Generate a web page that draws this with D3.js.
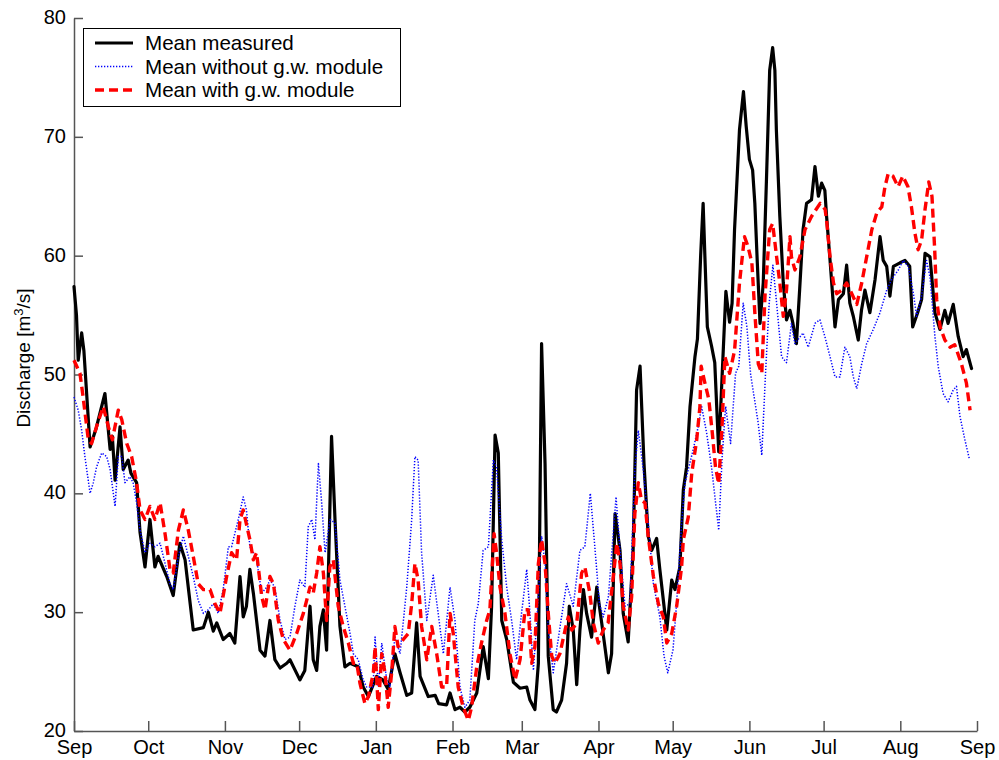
<!DOCTYPE html>
<html>
<head>
<meta charset="utf-8">
<script src="https://cdn.jsdelivr.net/npm/d3@7"></script>
<style>
  html, body { margin: 0; padding: 0; background: #fff; }
  svg { display: block; font-family: "Liberation Sans", Arial, sans-serif; }
</style>
</head>
<body>
<svg id="chart" width="999" height="760"></svg>
<script>
// ---- data: [day offset from 1 Sep, discharge m3/s] ----
const measured = [[0,57.4],[1,55],[1.7,51.2],[3.1,53.5],[4,52],[6.5,43.9],[9,45.5],[12.5,48.4],[14.6,43.7],[15.5,44.8],[16.6,41.1],[18.6,45.6],[19.9,42.0],[21.9,42.8],[23,41.7],[25.3,40.9],[26.7,36.7],[28.7,33.8],[30.7,37.8],[32.7,33.8],[34,34.7],[37.5,33.0],[40.1,31.4],[42.8,35.8],[44.9,34.4],[48.2,28.5],[52.3,28.7],[54.3,30.0],[56.3,28.4],[57.7,29.1],[60.3,27.7],[63,28.2],[65,27.4],[67.1,33.0],[68.4,29.6],[69.7,30.5],[71.1,33.6],[72.5,31.6],[75.2,26.8],[77.2,26.3],[79.2,29.3],[81.2,26.0],[83.3,25.3],[86,25.7],[87.3,26.0],[91.3,24.3],[93.3,25.1],[95.4,30.5],[96.7,26.0],[98.1,25.1],[99.4,28.8],[100.8,30.2],[102.1,26.8],[104.1,44.8],[105.5,37.8],[107.5,28.8],[109.5,25.4],[111.6,25.7],[114.9,25.4],[116.9,23.7],[119,22.9],[122.3,24.6],[124.9,24.3],[127,23.5],[129.7,26.5],[131.8,24.9],[134.5,23.0],[136.5,23.2],[138.5,29.1],[139.9,24.6],[143.2,22.9],[146,23.0],[147.4,22.3],[150.6,22.2],[152,23.2],[154,21.8],[156,22.0],[158,21.6],[160,22.0],[162.8,23.2],[165.4,27.1],[167.5,24.4],[168.8,30.5],[170.2,44.9],[171.5,43.4],[172.9,29.3],[174.9,27.7],[177.6,24.1],[180.3,23.6],[183,23.7],[184.3,22.6],[186.3,21.8],[187.7,25.7],[189,52.6],[190.4,42.5],[191.7,26.3],[193.7,21.8],[195,21.6],[197.1,22.6],[199.1,25.7],[200.2,30.5],[201.8,28.5],[203.2,23.9],[204.5,28.5],[205.9,31.9],[207.2,29.9],[209.2,27.9],[211.3,32.1],[213.3,29.1],[216,24.9],[217.3,26.5],[218.7,38.3],[220.7,35.2],[222,29.9],[224,27.5],[226,35.2],[227.4,48.7],[228.8,50.7],[230.4,42.5],[232.1,36.4],[233.5,35.2],[235.5,36.2],[236.8,33.6],[238.5,30.5],[239.6,28.5],[241.6,32.7],[242.9,31.9],[244.9,33.8],[246.3,40.3],[247.6,42.2],[249,47.3],[251,51.5],[252,53],[253.3,60],[254.3,64.4],[255,60],[256,54],[257.7,52.4],[259,51],[260.6,43.5],[262,50],[263.5,57],[265,54.4],[266,56],[267,62.2],[269,70.6],[270.6,73.8],[271.7,70.9],[273,68.1],[274.3,67.2],[275.2,64.4],[276.2,59.4],[277.3,54.3],[278.6,57.7],[279.9,66.4],[281.2,75.6],[282.4,77.5],[283.3,75.6],[283.9,70.6],[285.3,63.3],[286.7,57.7],[288,54.6],[289.4,55.4],[290.6,54.3],[292,52.6],[293.3,57.1],[294.7,62.2],[296.1,64.4],[298.1,64.7],[299.5,67.5],[300.9,65.0],[302.2,66.1],[303.5,65.5],[304.2,63.3],[305.6,59.6],[307.6,54.0],[309,56.3],[311,56.8],[312.3,59.2],[313.6,56.0],[315,54.9],[317,52.9],[318.3,55.4],[319.7,57.1],[321.7,55.2],[323.8,58.0],[325.8,61.6],[327.1,59.6],[328.5,59.1],[329.8,56.6],[331.2,59.1],[333.9,59.4],[335.9,59.6],[337.8,59.1],[339,54.0],[341,55.2],[342.6,56.3],[344,60.2],[346,59.9],[348,55.2],[350,53.8],[352,55.4],[353.3,54.3],[355.4,55.9],[357.4,53.2],[359.4,51.5],[360.7,52.1],[362.8,50.5]];

const withoutGW = [[0,48.1],[1.7,47.0],[3.1,45.3],[4.4,43.1],[6.5,40.0],[7.8,40.9],[9.1,42.2],[11.2,43.4],[13.2,43.1],[14.6,42.0],[16.6,38.9],[17.9,43.1],[19.3,43.1],[20.6,40.9],[22.6,41.4],[23.9,40.9],[25.3,39.2],[26.7,36.9],[28.7,35.0],[30.7,35.8],[32.7,35.5],[34.8,35.8],[36.8,34.1],[38.8,32.4],[40.1,31.9],[42.2,34.7],[44.2,36.4],[46.2,34.7],[48.2,33.0],[50.2,31.0],[52.3,29.9],[54.3,30.2],[56.3,30.7],[58.3,29.9],[60.3,31.9],[62.4,35.5],[63.7,35.5],[66.4,37.8],[68.4,39.7],[69.7,38.6],[71.1,35.5],[72.5,35.0],[73.8,34.4],[75.9,31.6],[77.9,32.1],[79.2,32.7],[81.2,32.1],[83.3,29.3],[85.3,27.7],[87.3,27.9],[89.3,30.5],[91.3,32.7],[93.3,32.1],[94.7,37.2],[96.1,37.8],[97.4,36.1],[98.8,42.5],[100.1,39.2],[101.5,35.0],[103.5,37.8],[105.5,37.5],[107.5,32.7],[109.5,30.5],[111.6,28.2],[112.9,26.5],[114.9,26.0],[116.9,24.3],[118.3,23.7],[120.9,23.7],[121.7,27.9],[123,23.7],[124.4,27.4],[126.4,24.3],[127.7,23.7],[129.7,27.9],[131.8,26.5],[134.5,32.1],[136.5,37.8],[137.8,43.1],[139.1,42.8],[140.5,35.0],[142.6,29.3],[145.2,33.1],[147.2,29.9],[149.3,26.5],[152,32.1],[154,29.3],[156,23.7],[158,22.0],[160,22.6],[162,29.3],[163.4,30.7],[165.4,35.2],[167.5,35.5],[169.5,42.8],[170.8,42.2],[172.9,36.1],[174.9,32.1],[176.9,29.3],[178.9,26.0],[180.9,29.9],[183,33.6],[184.3,29.9],[185.7,25.1],[187.7,31.3],[189,36.4],[190.4,34.1],[191.7,28.5],[193.7,24.9],[195.7,27.7],[199.1,32.4],[201.8,30.5],[204.5,35.2],[206.5,35.5],[208.7,40.0],[210.4,35.8],[212.4,30.7],[213.9,29.6],[216,31.3],[219.1,39.7],[220.7,35.2],[222.7,30.5],[224.7,30.7],[226.7,42.0],[228.1,45.3],[230.1,42.0],[232.1,37.5],[234.2,32.4],[236.8,29.6],[238.5,26.3],[240,24.9],[242.1,26.8],[243.5,30.5],[245.6,37.5],[247,40.9],[248.9,42.5],[250.3,43.7],[252.3,45.6],[253.7,47.3],[255.7,45.1],[257.7,42.2],[260.6,36.9],[262,43.1],[263.4,47.3],[265.4,44.2],[267.4,50.1],[268.7,50.7],[270.5,56.0],[272,54],[273.5,50],[276.5,46],[278,43.2],[279.5,50],[281,56],[282.5,59.2],[284,56],[286,51.5],[288,51],[290,54.3],[291.4,52.6],[294.7,53.5],[296.8,52.3],[299.5,54.3],[301.5,54.6],[303.5,53.2],[305.6,51.5],[307.6,49.8],[309.6,49.8],[311.6,52.3],[313.6,51.5],[315,49.8],[316.4,48.8],[318.4,50.9],[320.4,52.6],[323.1,53.8],[325.8,55.2],[328.5,57.1],[330.5,58.0],[333.2,58.8],[335.2,59.6],[337.2,59.1],[339.3,56.8],[340.6,54.9],[342.6,56.6],[344.6,59.6],[346,58.2],[348,53.2],[349.3,50.7],[351.3,48.4],[353.3,47.7],[355.4,48.7],[356.7,49.0],[358.1,46.5],[360.1,44.5],[361.9,42.9]];

const withGW = [[0,51.2],[2.4,50.1],[3.5,48.4],[5.8,44.5],[7.1,44.2],[9.1,45.6],[11.8,47.3],[13.9,45.6],[15.5,44.5],[17.9,47.0],[19.3,46.2],[21.3,44.2],[23.3,43.1],[25.3,40.9],[26.7,38.6],[28.7,37.8],[30.7,38.9],[32.7,37.8],[34.8,39.2],[36.8,36.6],[38.8,33.6],[40.1,33.3],[42.2,36.9],[44.2,38.6],[46.2,36.9],[48.2,34.7],[50.2,32.4],[52.3,31.9],[55,31.9],[57,30.7],[59,29.9],[61.7,33.0],[63.7,35.0],[65.7,34.4],[67.1,37.8],[68.4,38.6],[71.1,36.1],[72.5,34.4],[73.8,35.0],[75.9,31.3],[77.2,30.2],[79.2,33.0],[80.6,32.4],[82.6,29.3],[84.6,27.7],[87.3,26.8],[90,28.2],[92.7,29.9],[95.4,32.1],[96.7,31.6],[98.1,33.3],[99.4,35.5],[100.8,33.3],[102.1,29.3],[103.4,33.8],[104.8,34.4],[106.8,30.5],[108.8,28.8],[110.9,27.4],[112.9,25.7],[114.3,25.7],[115.6,24.0],[117.6,22.3],[119,22.9],[121,24.9],[121.7,27.1],[123,21.8],[124.4,26.5],[125.7,24.9],[127,22.0],[128.4,24.9],[129.7,28.8],[131,27.1],[133.1,27.7],[135.1,28.2],[136.5,30.7],[137.8,34.1],[139.1,32.7],[140.5,28.8],[142.6,26.0],[144.6,28.8],[146.6,26.5],[148.6,23.7],[150.6,23.7],[152,29.9],[153.3,28.2],[155.3,23.7],[157.3,22.0],[159.4,20.9],[160.7,22.0],[162.8,25.4],[164.7,27.4],[166.8,29.3],[168.1,30.2],[169.8,36.6],[170.8,35.0],[172.2,32.1],[174.2,29.9],[176.2,26.5],[178.3,24.3],[180.3,26.0],[182.3,30.2],[183.6,30.2],[185,25.7],[186.3,27.1],[187.7,34.1],[189,36.1],[190.4,34.1],[191.7,29.9],[193.1,26.3],[194.4,25.7],[196.4,26.5],[198.5,28.5],[199.8,29.6],[201.2,28.5],[203.2,29.1],[205.2,33.3],[206.5,33.8],[208.5,31.6],[209.9,29.1],[211.9,27.4],[213.9,28.5],[215.9,29.1],[218,33.0],[219.4,35.8],[220.7,34.1],[222,30.5],[224,28.5],[225.4,31.3],[226.7,38.3],[228.1,40.9],[229.4,39.4],[230.8,39.2],[232.1,36.4],[234.2,33.0],[236.2,30.7],[238.2,29.6],[239.6,27.4],[241.6,28.2],[243.6,30.5],[245.6,33.8],[246.3,36.1],[248.3,38.0],[249.7,41.7],[251.7,44.5],[253,47.3],[253.5,50.7],[255,49.3],[256.6,47.9],[258,45.1],[259.3,42.2],[260.6,40.8],[262,45.9],[263.1,51.5],[265,50.1],[267,52],[269,57.7],[271,61.6],[272.4,60.8],[274,59.4],[275.2,55.2],[276.6,50.9],[278,50.1],[279.3,56.6],[281.2,62.2],[282.4,62.7],[284,59.9],[285.3,57.7],[286.7,54.9],[288,57.1],[289.4,61.6],[290,59.9],[291.4,58.8],[293.4,59.9],[295.5,62.2],[298.1,63.3],[301.6,64.4],[303.6,63.9],[304.2,63.0],[305.6,59.9],[307,57.7],[308.3,56.8],[310.4,57.1],[312.3,57.7],[314.4,56.8],[316.4,55.9],[318.4,57.7],[320.4,59.9],[322.5,62.2],[324.5,63.6],[326.5,64.1],[327.8,65.8],[329.1,66.9],[331,66.7],[333.1,65.8],[335,66.7],[337.1,65.8],[338.5,64.1],[339.9,61.9],[341.2,60.5],[342.6,61.3],[344,63.9],[345.5,66.2],[346.8,65.0],[347.9,60.5],[348.7,56.3],[350.1,54.0],[352,52.9],[354.1,52.3],[356,52.5],[358.7,50.9],[360.7,49.3],[362.2,47.0]];

const yTicks = [20, 30, 40, 50, 60, 70, 80];
const seriesNames = ["Mean measured", "Mean without g.w. module", "Mean with g.w. module"];
const yLabel = "Discharge [m";
const yLabelSup = "3";
const yLabelEnd = "/s]";

// ---- layout ----
const start = new Date(Date.UTC(2001, 8, 1));
const end = new Date(Date.UTC(2002, 8, 1));
const DAY = 86400000;
const toDate = d => new Date(start.getTime() + d * DAY);

const svg = d3.select("#chart");
const x = d3.scaleUtc().domain([start, end]).range([74, 977]);
const y = d3.scaleLinear().domain([20, 80]).range([731, 18]);

const fontSize = 20;

// axes
const xAxis = d3.axisBottom(x)
  .tickValues(d3.utcMonth.range(start, d3.utcDay.offset(end, 1)))
  .tickFormat(d3.utcFormat("%b"))
  .tickSizeInner(-10).tickSizeOuter(0).tickPadding(9);
const yAxis = d3.axisLeft(y)
  .tickValues(yTicks).tickFormat(d3.format("d"))
  .tickSizeInner(-9).tickSizeOuter(0).tickPadding(8);

const gx = svg.append("g").attr("transform", "translate(0,731)").call(xAxis);
const gy = svg.append("g").attr("transform", "translate(74,0)").call(yAxis);
[gx, gy].forEach(g => {
  g.selectAll("path.domain").attr("stroke", "#555").attr("stroke-width", 1.5);
  g.selectAll(".tick line").attr("stroke", "#555").attr("stroke-width", 1.5);
  g.selectAll(".tick text").attr("fill", "#000")
    .style("font-size", fontSize + "px")
    .style("font-family", '"Liberation Sans", Arial, sans-serif');
});
gy.selectAll(".tick text").attr("dy", "0.28em");

// y label
const yl = svg.append("text")
  .attr("transform", "translate(30,358) rotate(-90)")
  .attr("text-anchor", "middle")
  .style("font-size", "19px")
  .attr("fill", "#000");
yl.append("tspan").text(yLabel);
yl.append("tspan").attr("dy", "-7").style("font-size", "13px").text(yLabelSup);
yl.append("tspan").attr("dy", "7").text(yLabelEnd);

// lines
const line = d3.line().x(d => x(toDate(d[0]))).y(d => y(d[1]));
const styles = [
  { data: measured, color: "#000000", width: 3.2, dash: null, cap: "round" },
  { data: withoutGW, color: "#0000ff", width: 1.5, dash: "1.3,1.7", cap: "butt" },
  { data: withGW, color: "#ff0000", width: 3.4, dash: "9,5", cap: "butt" }
];
styles.forEach(s => {
  svg.append("path").datum(s.data)
    .attr("d", line)
    .attr("fill", "none")
    .attr("stroke", s.color)
    .attr("stroke-width", s.width)
    .attr("stroke-linejoin", "round")
    .attr("stroke-linecap", s.cap)
    .attr("stroke-dasharray", s.dash);
});

// legend
const lg = svg.append("g");
lg.append("rect").attr("x", 83.5).attr("y", 28.5).attr("width", 317).attr("height", 78)
  .attr("fill", "#fff").attr("stroke", "#000").attr("stroke-width", 1);
seriesNames.forEach((name, i) => {
  const ry = 43 + i * 23.5;
  const s = styles[i];
  lg.append("line").attr("x1", 95).attr("x2", 133).attr("y1", ry).attr("y2", ry)
    .attr("stroke", s.color).attr("stroke-width", s.width)
    .attr("stroke-dasharray", s.dash);
  lg.append("text").attr("x", 145).attr("y", ry).attr("dy", "0.35em")
    .style("font-size", "20.6px").attr("fill", "#000").text(name);
});
</script>
</body>
</html>
